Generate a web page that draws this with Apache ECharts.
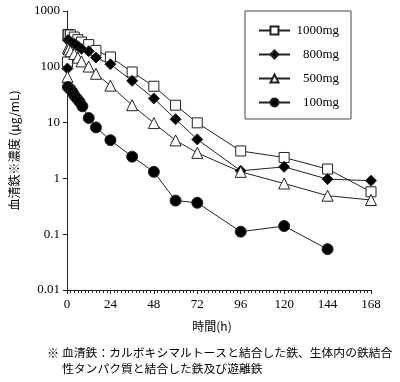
<!DOCTYPE html>
<html><head><meta charset="utf-8">
<script src="https://cdn.jsdelivr.net/npm/echarts@6/dist/echarts.min.js"></script>
<style>html,body{margin:0;padding:0;background:#fff}#c{width:400px;height:382px}</style>
</head><body><div id="c"></div>
<script>
const seriesNames = ['1000mg', '800mg', '500mg', '100mg'];
const t1000 = [0.25, 0.5, 1, 2, 4, 6, 8, 12, 16, 24, 36, 48, 60, 72, 96, 120, 144, 168];
const v1000 = [122, 380, 377, 372, 341, 307, 278, 250, 197, 150, 80.7, 44.8, 20.5, 9.9, 3.1, 2.37, 1.47, 0.575];
const t800 = [0.25, 0.5, 1, 2, 4, 6, 8, 12, 16, 24, 36, 48, 60, 72, 96, 120, 144, 168];
const v800 = [93, 300, 298, 280, 258, 235, 210, 190, 146, 111, 56, 27, 11.5, 5.0, 1.37, 1.61, 0.97, 0.91];
const t500 = [0.25, 0.5, 1, 2, 4, 6, 8, 12, 16, 24, 36, 48, 60, 72, 96, 120, 144, 168];
const v500 = [66, 215, 205, 190, 170, 146, 125, 101, 75, 46, 20.5, 9.8, 4.8, 2.87, 1.31, 0.81, 0.49, 0.41];
const t100 = [0.5, 2, 3, 4, 5.5, 7, 8.5, 12, 16, 24, 36, 48, 60, 72, 96, 120, 144];
const v100 = [43.5, 39, 35.4, 30.9, 27, 23.5, 19.6, 12.1, 8.2, 4.84, 2.45, 1.31, 0.40, 0.366, 0.111, 0.14, 0.054];
const xTicks = [0, 24, 48, 72, 96, 120, 144, 168];
const yTicks = [0.01, 0.1, 1, 10, 100, 1000];

const pair = (t, v) => t.map((x, i) => [x, v[i]]);
const serif = '"Liberation Serif", "DejaVu Serif", serif';
const jp = '"Noto Sans CJK JP", sans-serif';

const chart = echarts.init(document.getElementById('c'));
const lineStyle = {color: '#222', width: 1};
const mk = (name, data, symbol, size, fill) => ({
  name, type: 'line', data, symbol, symbolSize: size,
  showAllSymbol: true,
  lineStyle, itemStyle: {color: fill, borderColor: '#222', borderWidth: 1},
  emphasis: {disabled: true}, animation: false
});
chart.setOption({
  animation: false,
  grid: {left: 67, right: 29, top: 11, bottom: 92},
  legend: {
    orient: 'vertical', left: 245, top: 11,
    padding: [13, 12, 10, 13],
    itemWidth: 31, itemHeight: 10, itemGap: 11,
    borderColor: '#444', borderWidth: 1,
    data: seriesNames,
    formatter: '{a|{name}}',
    textStyle: {rich: {a: {width: 44, align: 'right', fontFamily: serif, fontSize: 13, color: '#000'}}}
  },
  xAxis: {
    type: 'value', min: xTicks[0], max: xTicks[xTicks.length - 1], interval: 24,
    axisLine: {lineStyle: {color: '#222'}},
    axisTick: {show: true, length: 4, lineStyle: {color: '#222'}},
    minorTick: {show: true, splitNumber: 12, length: 3, lineStyle: {color: '#222'}},
    splitLine: {show: false},
    axisLabel: {fontFamily: serif, fontSize: 13, color: '#000', margin: 8},
    name: '時間(h)', nameLocation: 'middle', nameGap: 30,
    nameTextStyle: {fontFamily: jp, fontSize: 12, color: '#000', padding: [0, 14, 0, 0]}
  },
  yAxis: {
    type: 'log', logBase: 10, min: yTicks[0], max: yTicks[yTicks.length - 1],
    axisLine: {show: true, lineStyle: {color: '#222'}},
    axisTick: {show: true, length: 4, lineStyle: {color: '#222'}},
    splitLine: {show: false},
    axisLabel: {fontFamily: serif, fontSize: 13, color: '#000', margin: 7,
      formatter: v => String(+v.toPrecision(3))},
    name: '血清鉄※濃度 (μg/mL)', nameLocation: 'middle', nameRotate: 90, nameGap: 47,
    nameTextStyle: {fontFamily: jp, fontSize: 12, color: '#000'}
  },
  series: [
    mk('1000mg', pair(t1000, v1000), 'rect', 10, '#fff'),
    mk('800mg', pair(t800, v800), 'diamond', 11, '#000'),
    mk('500mg', pair(t500, v500), 'triangle', 11, '#fff'),
    mk('100mg', pair(t100, v100), 'circle', 11, '#000')
  ],
  graphic: [
    {type: 'text', left: 47, top: 347, style: {text: '※', fontFamily: jp, fontSize: 12, fill: '#000'}},
    {type: 'text', left: 62, top: 347, style: {text: '血清鉄：カルボキシマルトースと結合した鉄、生体内の鉄結合', fontFamily: jp, fontSize: 11.8, fill: '#000'}},
    {type: 'text', left: 62, top: 363, style: {text: '性タンパク質と結合した鉄及び遊離鉄', fontFamily: jp, fontSize: 11.8, fill: '#000'}}
  ]
});
</script></body></html>
